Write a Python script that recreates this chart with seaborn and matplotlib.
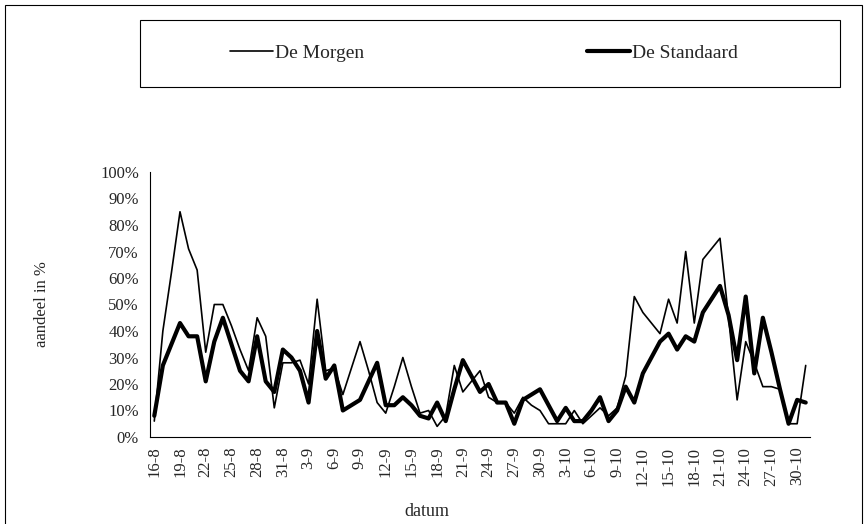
import numpy as np
import pandas as pd
import matplotlib
matplotlib.use("Agg")
import matplotlib.pyplot as plt
import matplotlib.ticker as mticker
from matplotlib.patches import Rectangle
from matplotlib.lines import Line2D
import seaborn as sns

# dagen 16-8 t/m 31-10
dagen = ([f"{d}-8" for d in range(16, 32)] + [f"{d}-9" for d in range(1, 31)]
         + [f"{d}-10" for d in range(1, 32)])

de_morgen = [6, 40, 62, 85, 71, 63, 32, 50, 50, 42, 33, 25, 45, 38, 11, 28,
             28, 29, 20, 52, 25, 26, 16, 26, 36, 25, 13, 9, 19, 30, 19, 9,
             10, 4, 8, 27, 17, 21, 25, 15, 13, 13, 9, 15, 12, 10, 5, 5,
             5, 10, 5, 8, 11, 8, 11, 23, 53, 47, 43, 39, 52, 43, 70, 43,
             67, 71, 75, 45, 14, 36, 28, 19, 19, 18, 5, 5, 27]

de_standaard = [8, 27, 35, 43, 38, 38, 21, 36, 45, 35, 25, 21, 38, 21, 17, 33,
                30, 25, 13, 40, 22, 27, 10, 12, 14, 21, 28, 12, 12, 15, 12, 8,
                7, 13, 6, 18, 29, 23, 17, 20, 13, 13, 5, 14, 16, 18, 12, 6,
                11, 6, 6, 10, 15, 6, 10, 19, 13, 24, 30, 36, 39, 33, 38, 36,
                47, 52, 57, 46, 29, 53, 24, 45, 32, 18, 5, 14, 13]

df = pd.DataFrame({"pos": np.arange(len(dagen)), "datum": dagen,
                   "De Morgen": de_morgen, "De Standaard": de_standaard})

sns.set_style("white")
plt.rcParams["font.family"] = ["Liberation Serif", "DejaVu Serif"]

fig = plt.figure(figsize=(8.68, 5.24), dpi=100)
ax = fig.add_axes([150 / 868, 87 / 524, 660 / 868, 265 / 524])

sns.lineplot(data=df, x="pos", y="De Morgen", ax=ax, color="black", linewidth=1.2)
sns.lineplot(data=df, x="pos", y="De Standaard", ax=ax, color="black", linewidth=3.0)

ax.set_xlim(-0.5, len(dagen) - 0.5)
ax.set_ylim(0, 100)
ax.yaxis.set_major_locator(mticker.MultipleLocator(10))
ax.yaxis.set_minor_locator(mticker.MultipleLocator(5))
ax.yaxis.set_major_formatter(mticker.FuncFormatter(lambda v, p: f"{v:.0f}%"))
ax.set_xticks(df["pos"][::3])
ax.set_xticklabels(df["datum"][::3], rotation=90)
ax.set_xticks(df["pos"], minor=True)
ax.tick_params(axis="both", which="major", direction="inout", length=8, width=0.8,
               labelsize=12, color="black")
ax.tick_params(axis="both", which="minor", direction="inout", length=5, width=0.8,
               color="black")
ax.tick_params(axis="y", pad=4)
ax.tick_params(axis="x", pad=3)

for s in ["top", "right"]:
    ax.spines[s].set_visible(False)
for s in ["left", "bottom"]:
    ax.spines[s].set_color("black")
    ax.spines[s].set_linewidth(0.8)

ax.set_xlabel("datum", fontsize=13, va="top")
ax.set_ylabel("aandeel in %", fontsize=12, va="center")
ax.xaxis.set_label_coords((427 - 150) / 660, -(503 - 437) / 265)
ax.yaxis.set_label_coords(-(150 - 42) / 660, 0.5)

# kaderlijn rond grafiek
fig.patches.append(Rectangle((5 / 868, -0.05), 857 / 868, 1.05 - 5 / 524,
                             transform=fig.transFigure, fill=False,
                             edgecolor="black", linewidth=0.8))

# legende
fig.patches.append(Rectangle((140 / 868, 1 - 87 / 524), 700 / 868, 67 / 524,
                             transform=fig.transFigure, fill=False,
                             edgecolor="black", linewidth=0.8))
handles = [Line2D([], [], color="black", linewidth=1.2),
           Line2D([], [], color="black", linewidth=3.0)]
fig.legend(handles, ["De Morgen", "De Standaard"], loc="center",
           bbox_to_anchor=(484 / 868, 1 - 53 / 524), ncol=2, frameon=False,
           fontsize=14, handlelength=2.2, handletextpad=0.1, columnspacing=11.5)

fig.savefig("out.png", dpi=100)
